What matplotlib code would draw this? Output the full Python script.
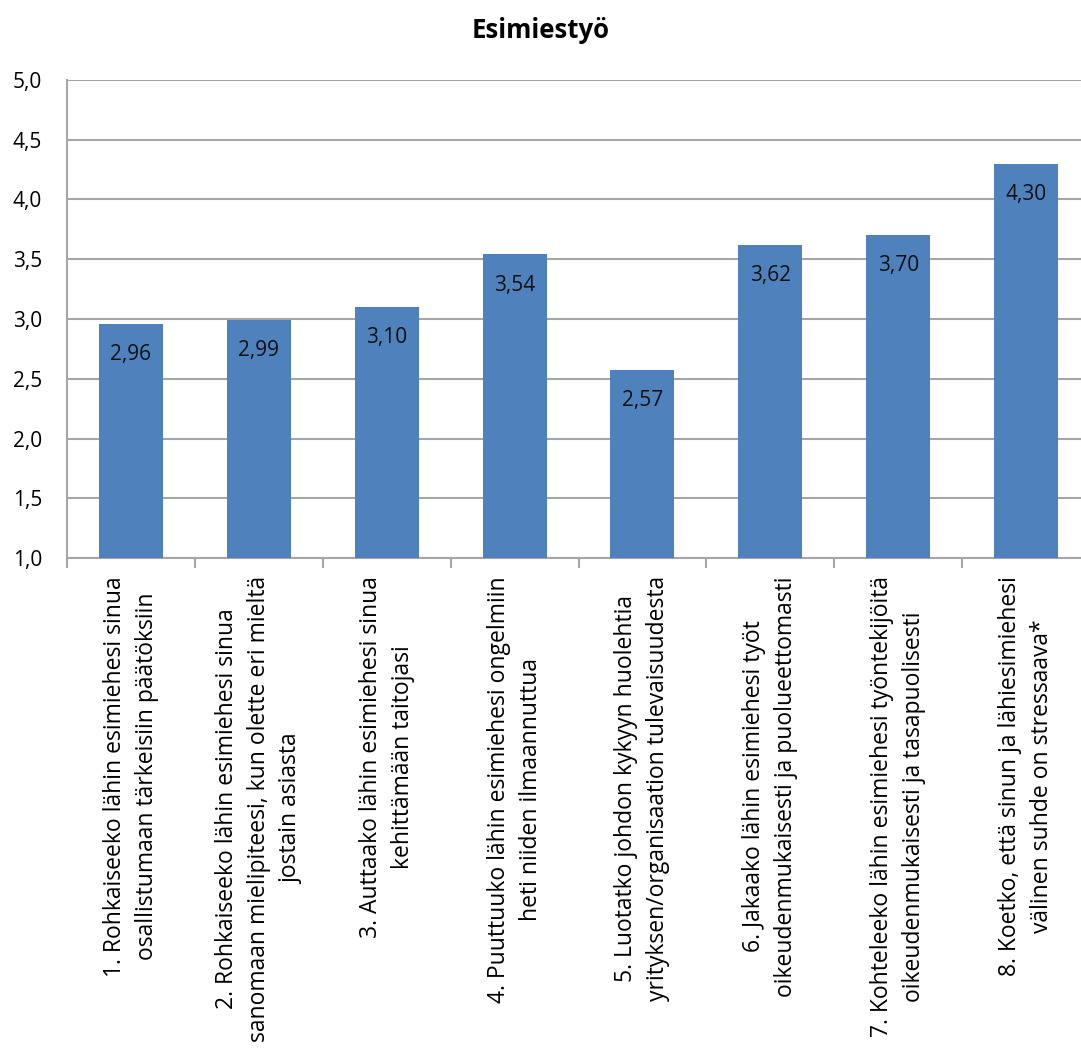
import matplotlib
matplotlib.use("Agg")
import matplotlib.pyplot as plt
from matplotlib.ticker import FuncFormatter, FixedLocator
import numpy as np

plt.rcParams['font.family'] = ['Open Sans', 'DejaVu Sans']

title = "Esimiestyö"
categories = [
    "1. Rohkaiseeko lähin esimiehesi sinua\nosallistumaan tärkeisiin päätöksiin",
    "2. Rohkaiseeko lähin esimiehesi sinua\nsanomaan mielipiteesi, kun olette eri mieltä\njostain asiasta",
    "3. Auttaako lähin esimiehesi sinua\nkehittämään taitojasi",
    "4. Puuttuuko lähin esimiehesi ongelmiin\nheti niiden ilmaannuttua",
    "5. Luotatko johdon kykyyn huolehtia\nyrityksen/organisaation tulevaisuudesta",
    "6. Jakaako lähin esimiehesi työt\noikeudenmukaisesti ja puolueettomasti",
    "7. Kohteleeko lähin esimiehesi työntekijöitä\noikeudenmukaisesti ja tasapuolisesti",
    "8. Koetko, että sinun ja lähiesimiehesi\nvälinen suhde on stressaava*",
]
values = [2.96, 2.99, 3.10, 3.54, 2.57, 3.62, 3.70, 4.30]
yticks = [1.0, 1.5, 2.0, 2.5, 3.0, 3.5, 4.0, 4.5, 5.0]

bar_color = "#4F81BD"
grid_color = "#A6A6A6"

fig = plt.figure(figsize=(10.81, 10.52), dpi=100)
W, H = 1081, 1052
left, right, top, bottom = 67, 1090, 80, 558
ax = fig.add_axes([left / W, 1 - bottom / H, (right - left) / W, (bottom - top) / H])

x = np.arange(len(values))
bars = ax.bar(x, values, width=0.5, color=bar_color, zorder=3)

ax.set_ylim(1.0, 5.0)
ax.set_xlim(-0.5, len(values) - 0.5)
ax.set_yticks(yticks)
ax.yaxis.set_major_formatter(FuncFormatter(lambda v, p: f"{v:.1f}".replace(".", ",")))
ax.grid(axis='y', color=grid_color, linewidth=1.5, zorder=0)
ax.tick_params(axis='y', length=0, pad=18, labelsize=15, labelcolor="#000000")

# category boundary ticks
ax.xaxis.set_major_locator(FixedLocator(np.arange(-0.5, len(values), 1.0)))
ax.xaxis.set_major_formatter(FuncFormatter(lambda v, p: ""))
ax.tick_params(axis='x', which='major', length=7, width=1.5, color=grid_color, direction='out')
ax.set_xticks(x, minor=True)
ax.set_xticklabels(categories, minor=True, rotation=90, ha='center', va='top',
                   multialignment='center', fontsize=16.5, linespacing=1.45)
ax.tick_params(axis='x', which='minor', length=0, pad=13)

for s in ['top', 'right']:
    ax.spines[s].set_visible(False)
for s in ['left', 'bottom']:
    ax.spines[s].set_color(grid_color)
    ax.spines[s].set_linewidth(1.5)
ax.spines['left'].set_zorder(4)

for b, v in zip(bars, values):
    ax.annotate(f"{v:.2f}".replace(".", ","), xy=(b.get_x() + b.get_width() / 2, v),
                xytext=(0, -22), textcoords='offset points', ha='center', va='center',
                fontsize=15, color='#111111', zorder=5)

fig.text(0.5, 1 - 31 / H, title, ha='center', va='center', fontsize=18.5, fontweight='bold')

fig.savefig("out.png", dpi=100)
